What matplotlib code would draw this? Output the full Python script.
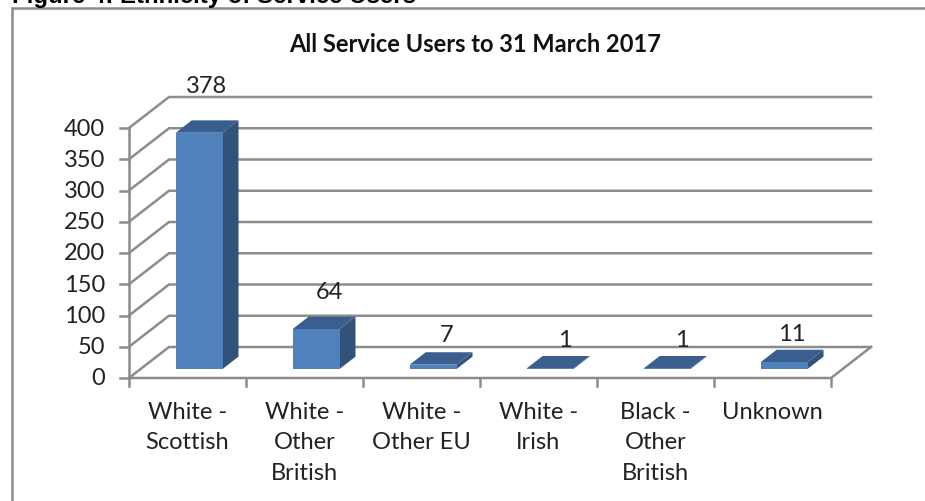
import matplotlib
matplotlib.use("Agg")
import matplotlib.pyplot as plt
from matplotlib.lines import Line2D
from matplotlib.patches import Polygon

plt.rcParams['font.family'] = ['Lato', 'DejaVu Sans']

categories = ["White -\nScottish", "White -\nOther\nBritish", "White -\nOther EU",
              "White -\nIrish", "Black -\nOther\nBritish", "Unknown"]
values = [378, 64, 7, 1, 1, 11]
y_ticks = [0, 50, 100, 150, 200, 250, 300, 350, 400]

W, H = 925, 502
GRAY = '#8c8c8c'
TEXT = '#222222'
FRONT = '#4f81bd'
TOP = '#3a5f8f'
SIDE = '#325279'
FS = 17
LW = 1.8

# how far each value label sits above / right of its bar's back top edge, px
label_lift = [35, 25, 18, 16, 16, 16]
label_shift = [-9, -3, -3, -1, -1, -8]

fig = plt.figure(figsize=(W / 100, H / 100), dpi=100)

# axes = front plane of the fake 3d box
left, right, top, bottom = 129, 831, 129, 379
ax = fig.add_axes([left / W, 1 - bottom / H, (right - left) / W, (bottom - top) / H])
ax.set_xlim(0, 6)
ax.set_ylim(0, 400)
ax.axis('off')

px_x = 6 / (right - left)
px_y = 400 / (bottom - top)

# depth of the box in data units
dx = 40 * px_x
dy = 31 * px_y

def pr(x, v, d):
    return (x + d * dx, v + d * dy)

def poly(pts, **kw):
    # bars go over the gridlines
    ax.add_patch(Polygon(pts, closed=True, clip_on=False, zorder=3, **kw))

# gridlines and side wall
for t in y_ticks:
    ax.plot(*zip(pr(0, t, 0), pr(0, t, 1), pr(6, t, 1)), color=GRAY, lw=LW,
            clip_on=False, solid_joinstyle='miter')
    ax.plot([-9 * px_x, 0], [t, t], color=GRAY, lw=LW, clip_on=False)
    ax.text(-24 * px_x, t, str(t), ha='right', va='center', fontsize=FS, color=TEXT)
ax.plot([0, 0], [0, 400], color=GRAY, lw=LW, clip_on=False)

# floor front edge and right edge
ax.plot(*zip(pr(0, 0, 0), pr(6, 0, 0), pr(6, 0, 1)), color=GRAY, lw=LW, clip_on=False)
for i in range(7):
    ax.plot([i, i], [0, -8 * px_y], color=GRAY, lw=LW, clip_on=False)

# bars
bar_w = 0.40
d0, d1 = 0.29, 0.69
for i, (cat, v) in enumerate(zip(categories, values)):
    x0 = i + 0.5 - bar_w / 2
    x1 = x0 + bar_w
    poly([pr(x1, 0, d0), pr(x1, 0, d1), pr(x1, v, d1), pr(x1, v, d0)], fc=SIDE, ec='none')
    poly([pr(x0, v, d0), pr(x1, v, d0), pr(x1, v, d1), pr(x0, v, d1)], fc=TOP, ec='none')
    poly([pr(x0, 0, d0), pr(x1, 0, d0), pr(x1, v, d0), pr(x0, v, d0)], fc=FRONT, ec='none')
    lx, ly = pr(i + 0.5, v, d1)
    ax.text(lx + label_shift[i] * px_x, ly + label_lift[i] * px_y, str(v), ha='center',
            va='center', fontsize=FS, color=TEXT)
    ax.text(i + 0.5, -23 * px_y, cat, ha='center', va='top', fontsize=FS,
            color=TEXT, linespacing=1.55)

fig.text(475 / W, 1 - 45 / H, "All Service Users to 31 March 2017", ha='center', va='center',
         fontsize=17, fontweight='bold', color='#111111')

# outer frame of the chart, runs off the right and bottom of the page
fig.add_artist(Line2D([11.5 / W, 11.5 / W, 1], [0, 1 - 8.5 / H, 1 - 8.5 / H],
                      transform=fig.transFigure, color=GRAY, lw=1.8,
                      solid_joinstyle='miter'))

# heading cut off by the crop
fig.text(12 / W, 1 - 3 / H, "Figure 4: Ethnicity of Service Users", ha='left', va='baseline',
         fontsize=17.3, fontweight='bold', family=['Liberation Sans'], color='black')

fig.savefig("out.png", dpi=100)
